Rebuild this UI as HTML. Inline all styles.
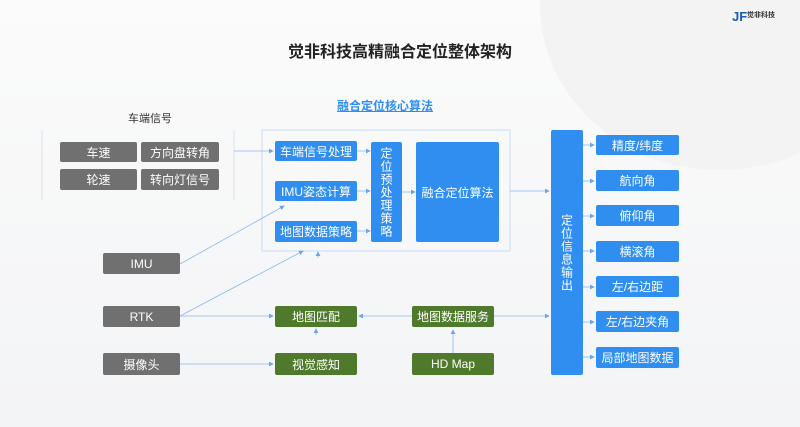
<!DOCTYPE html>
<html><head><meta charset="utf-8"><style>
body{margin:0;width:800px;height:427px;overflow:hidden;background:linear-gradient(180deg,#fbfbfb,#f3f4f6);font-family:"Liberation Sans","Noto Sans CJK SC",sans-serif;position:relative}
.b{position:absolute;display:flex;align-items:center;justify-content:center;color:#fff;font-size:12px;border-radius:2px}
.g{background:#707070}.u{background:#2f8ef0}.n{background:#4f7a2c}
.v{writing-mode:vertical-rl;text-orientation:upright;letter-spacing:1px}
</style></head><body>
<div style="position:absolute;left:540px;top:-160px;width:360px;height:330px;border-radius:50%;background:#f3f3f4"></div>
<div style="position:absolute;left:732px;top:9px;color:#1a5bb8;font-size:13px;font-weight:bold">JF</div>
<div style="position:absolute;left:747px;top:10px;font-size:7px;color:#333;font-weight:bold">觉非科技</div>
<div style="position:absolute;left:0;width:800px;top:38px;text-align:center;font-size:16px;font-weight:bold;color:#222">觉非科技高精融合定位整体架构</div>
<div style="position:absolute;left:110px;top:110px;width:80px;text-align:center;font-size:11px;color:#333">车端信号</div>
<div style="position:absolute;left:330px;top:97px;width:110px;text-align:center;font-size:12px;font-weight:bold;color:#2f8ef0;text-decoration:underline">融合定位核心算法</div>
<svg width="800" height="427" style="position:absolute;left:0;top:0">
<defs><marker id="a" markerWidth="6" markerHeight="6" refX="5" refY="3" orient="auto"><path d="M0,0L6,3L0,6z" fill="#6aa5ea"/></marker></defs>
<g stroke="#dde3ea" fill="none"><path d="M42,130V200M234,130V200"/><rect x="262" y="130" width="248" height="121" stroke="#c9dcf3"/></g>
<g stroke="#8ab8ec" stroke-width="0.8" fill="none" marker-end="url(#a)">
<path d="M234,151H273"/><path d="M357,151H370"/><path d="M357,191H370"/><path d="M357,231H370"/><path d="M402,192H415"/>
<path d="M510,191H549"/>
<path d="M180,264L284,206"/><path d="M180,316L303,251"/><path d="M180,316H273"/><path d="M180,364H273"/>
<path d="M316,335V329" /><path d="M318,258V252"/>
<path d="M412,316H359"/><path d="M494,316H549"/><path d="M453,353V330"/>
<path d="M583,145H594"/><path d="M583,181H594"/><path d="M583,216H594"/><path d="M583,251H594"/><path d="M583,287H594"/><path d="M583,322H594"/><path d="M583,357H594"/>
</g></svg>
<div class="b g" style="left:60px;top:142px;width:77px;height:20px">车速</div>
<div class="b g" style="left:141px;top:142px;width:78px;height:20px">方向盘转角</div>
<div class="b g" style="left:60px;top:169px;width:77px;height:21px">轮速</div>
<div class="b g" style="left:141px;top:169px;width:78px;height:21px">转向灯信号</div>
<div class="b g" style="left:103px;top:253px;width:77px;height:21px">IMU</div>
<div class="b g" style="left:103px;top:306px;width:77px;height:21px">RTK</div>
<div class="b g" style="left:103px;top:353px;width:77px;height:22px">摄像头</div>
<div class="b u" style="left:275px;top:141px;width:82px;height:20px">车端信号处理</div>
<div class="b u" style="left:275px;top:181px;width:82px;height:20px">IMU姿态计算</div>
<div class="b u" style="left:275px;top:221px;width:82px;height:21px">地图数据策略</div>
<div class="b u v" style="left:371px;top:142px;width:31px;height:100px;font-size:12px">定位预处理策略</div>
<div class="b u" style="left:416px;top:142px;width:83px;height:100px">融合定位算法</div>
<div class="b u v" style="left:551px;top:130px;width:32px;height:245px">定位信息输出</div>
<div class="b u" style="left:596px;top:135px;width:83px;height:20px">精度/纬度</div>
<div class="b u" style="left:596px;top:170px;width:83px;height:21px">航向角</div>
<div class="b u" style="left:596px;top:205px;width:83px;height:21px">俯仰角</div>
<div class="b u" style="left:596px;top:241px;width:83px;height:21px">横滚角</div>
<div class="b u" style="left:596px;top:276px;width:83px;height:21px">左/右边距</div>
<div class="b u" style="left:596px;top:311px;width:83px;height:21px">左/右边夹角</div>
<div class="b u" style="left:596px;top:347px;width:83px;height:21px">局部地图数据</div>
<div class="b n" style="left:275px;top:306px;width:82px;height:21px">地图匹配</div>
<div class="b n" style="left:275px;top:353px;width:82px;height:22px">视觉感知</div>
<div class="b n" style="left:412px;top:306px;width:82px;height:21px">地图数据服务</div>
<div class="b n" style="left:412px;top:353px;width:82px;height:22px">HD Map</div>
</body></html>
